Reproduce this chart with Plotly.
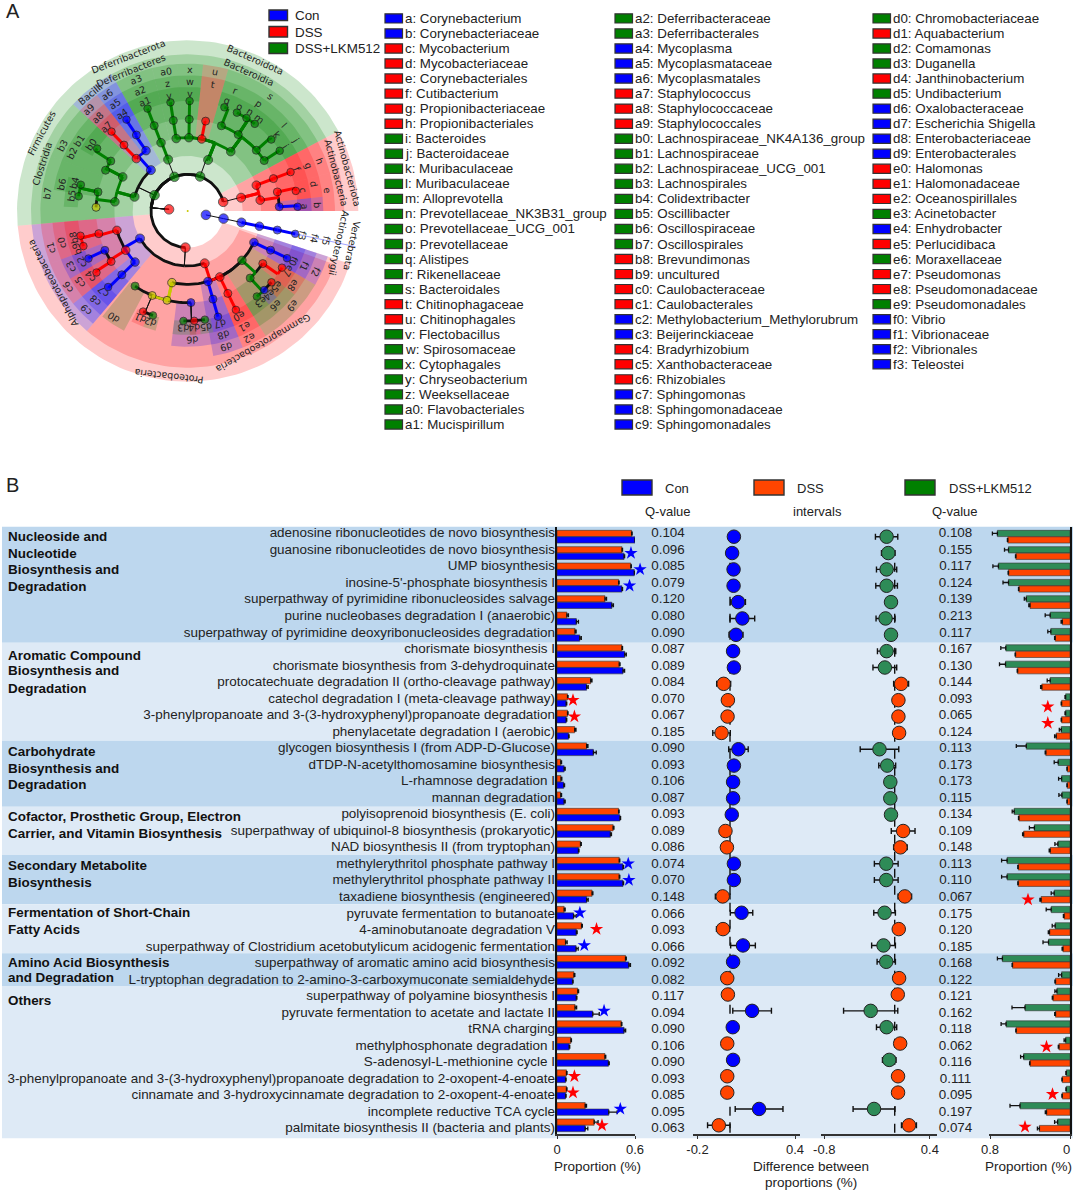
import math
import plotly.graph_objects as go

W, H = 1073, 1191
BLUE, RED, GREEN, YEL = "#0000FF", "#FF0000", "#008000", "#C8C800"
ORANGE, SEA = "#FF4500", "#2E8B57"
FONT = "Liberation Sans"
INK = "#222222"

# ---------------- Panel B data ----------------
pathways = [
 "adenosine ribonucleotides de novo biosynthesis", "guanosine ribonucleotides de novo biosynthesis",
 "UMP biosynthesis", "inosine-5'-phosphate biosynthesis I",
 "superpathway of pyrimidine ribonucleosides salvage", "purine nucleobases degradation I (anaerobic)",
 "superpathway of pyrimidine deoxyribonucleosides degradation", "chorismate biosynthesis I",
 "chorismate biosynthesis from 3-dehydroquinate", "protocatechuate degradation II (ortho-cleavage pathway)",
 "catechol degradation I (meta-cleavage pathway)", "3-phenylpropanoate and 3-(3-hydroxyphenyl)propanoate degradation",
 "phenylacetate degradation I (aerobic)", "glycogen biosynthesis I (from ADP-D-Glucose)",
 "dTDP-N-acetylthomosamine biosynthesis", "L-rhamnose degradation I", "mannan degradation",
 "polyisoprenoid biosynthesis (E. coli)", "superpathway of ubiquinol-8 biosynthesis (prokaryotic)",
 "NAD biosynthesis II (from tryptophan)", "methylerythritol phosphate pathway I",
 "methylerythritol phosphate pathway II", "taxadiene biosynthesis (engineered)",
 "pyruvate fermentation to butanoate", "4-aminobutanoate degradation V",
 "superpathway of Clostridium acetobutylicum acidogenic fermentation",
 "superpathway of aromatic amino acid biosynthesis",
 "L-tryptophan degradation to 2-amino-3-carboxymuconate semialdehyde",
 "superpathway of polyamine biosynthesis I", "pyruvate fermentation to acetate and lactate II",
 "tRNA charging", "methylphosphonate degradation I", "S-adenosyl-L-methionine cycle I",
 "3-phenylpropanoate and 3-(3-hydroxyphenyl)propanoate degradation to 2-oxopent-4-enoate",
 "cinnamate and 3-hydroxycinnamate degradation to 2-oxopent-4-enoate",
 "incomplete reductive TCA cycle", "palmitate biosynthesis II (bacteria and plants)"]

left_dss = [.574,.50,.568,.474,.369,.076,.139,.50,.479,.259,.081,.081,.136,.228,.029,.031,.029,.474,.432,.181,.479,.479,.27,.055,.189,.066,.527,.131,.16,.139,.495,.107,.369,.073,.073,.217,.286]
left_con = [.60,.516,.595,.50,.422,.149,.175,.521,.508,.228,.071,.071,.089,.28,.055,.052,.055,.485,.411,.165,.508,.508,.228,.128,.149,.147,.553,.12,.149,.275,.516,.094,.396,.066,.066,.398,.217]
left_dss_err = [.004,.004,.004,.004,.012,.012,.008,.004,.006,.01,.004,.004,.01,.01,.006,.006,.006,.004,.006,.006,.004,.004,.006,.008,.006,.012,.006,.006,.006,.012,.004,.004,.006,.004,.004,.01,.03]
left_con_err = [.004,.004,.004,.004,.012,.016,.012,.012,.012,.012,.004,.004,.004,.022,.008,.006,.008,.004,.008,.004,.004,.004,.012,.02,.006,.016,.012,.004,.004,.05,.012,.004,.006,.004,.004,.065,.02]

right_dsslkm = [.726,.615,.716,.615,.437,.198,.192,.642,.645,.198,.044,.044,.087,.437,.118,.084,.081,.558,.356,.121,.629,.629,.158,.188,.148,.215,.676,.084,.131,.45,.639,.044,.464,.037,.037,.50,.124]
right_dss = [.622,.541,.615,.511,.40,.077,.148,.545,.524,.282,.084,.084,.138,.242,.027,.027,.027,.511,.464,.198,.518,.518,.289,.06,.205,.071,.575,.145,.171,.145,.538,.111,.40,.077,.077,.235,.306]
right_lkm_err = [.05,.04,.055,.055,.02,.05,.03,.05,.06,.03,.006,.006,.02,.1,.04,.03,.03,.02,.05,.03,.055,.055,.03,.05,.03,.055,.05,.03,.02,.13,.05,.015,.03,.004,.004,.1,.03]
right_dss_err = [.004,.004,.004,.004,.012,.012,.006,.004,.004,.012,.004,.004,.016,.006,.004,.004,.004,.004,.01,.01,.004,.004,.012,.006,.012,.008,.004,.006,.006,.008,.004,.006,.004,.004,.004,.012,.02]

diff_left = [.024,.013,.022,.022,.05,.076,.037,.019,.024,-.039,-.013,-.015,-.052,.052,.024,.019,.019,.011,-.028,-.019,.024,.024,-.045,.071,-.043,.08,.019,-.017,-.013,.136,.017,-.017,.019,-.017,-.017,.179,-.069]
diff_left_err = [.02,.02,.025,.025,.045,.076,.043,.025,.03,.043,.01,.01,.054,.06,.03,.02,.02,.02,.03,.02,.02,.02,.045,.069,.04,.076,.02,.02,.02,.119,.02,.02,.02,.01,.01,.147,.069]
diff_right = [-.092,-.073,-.092,-.092,-.042,-.104,-.042,-.092,-.112,.073,.042,.042,.05,-.173,-.085,-.05,-.05,-.042,.096,.065,-.096,-.096,.115,-.115,.046,-.127,-.096,.05,.035,-.273,-.092,.062,-.062,.038,.038,-.235,.162]
diff_right_err = [.127,.077,.115,.123,.04,.108,.04,.104,.135,.085,.02,.02,.02,.219,.096,.03,.03,.02,.135,.077,.135,.135,.077,.123,.02,.135,.104,.02,.02,.308,.115,.03,.077,.02,.02,.238,.085]

q_left = ["0.104","0.096","0.085","0.079","0.120","0.080","0.090","0.087","0.089","0.084","0.070","0.067","0.185","0.090","0.093","0.106","0.087","0.093","0.089","0.086","0.074","0.070","0.148","0.066","0.093","0.066","0.092","0.082","0.117","0.094","0.090","0.106","0.090","0.093","0.085","0.095","0.063"]
q_right = ["0.108","0.155","0.117","0.124","0.139","0.213","0.117","0.167","0.130","0.144","0.093","0.065","0.124","0.113","0.173","0.173","0.115","0.134","0.109","0.148","0.113","0.110","0.067","0.175","0.120","0.185","0.168","0.122","0.121","0.162","0.118","0.062","0.116","0.111","0.095","0.197","0.074"]

star_blue_rows = [1,2,3,20,21,23,25,29,35]
star_blue_x = [.569,.639,.558,.548,.553,.176,.21,.362,.487]
star_red_rows = [10,11,24,33,34,36]
star_red_x = [.123,.134,.304,.134,.123,.346]
star_right_rows = [10.4,11.4,22.2,31.2,34.1,36.1]
star_right_x = [.222,.222,.42,.235,.175,.45]

group_bands = [526.7, 642.7, 740.7, 806.7, 855, 904.3, 953.3, 986, 1138.3]
group_lines = [("Nucleoside and",536.7),("Nucleotide",553),("Biosynthesis and",569.7),("Degradation",586),
 ("Aromatic Compound",655),("Biosynthesis and",671),("Degradation",688),
 ("Carbohydrate",751.7),("Biosynthesis and",768),("Degradation",784),
 ("Cofactor, Prosthetic Group, Electron",816.7),("Carrier, and Vitamin Biosynthesis",833),
 ("Secondary Metabolite",865.3),("Biosynthesis",882),
 ("Fermentation of Short-Chain",912.3),("Fatty Acids",929),
 ("Amino Acid Biosynthesis",962),("and Degradation",978),("Others",1000)]

# ---------------- Panel A data ----------------
legend_col1 = ["a: Corynebacterium","b: Corynebacteriaceae","c: Mycobacterium","d: Mycobacteriaceae","e: Corynebacteriales","f: Cutibacterium","g: Propionibacteriaceae","h: Propionibacteriales","i: Bacteroides","j: Bacteroidaceae","k: Muribaculaceae","l: Muribaculaceae","m: Alloprevotella","n: Prevotellaceae_NK3B31_group","o: Prevotellaceae_UCG_001","p: Prevotellaceae","q: Alistipes","r: Rikenellaceae","s: Bacteroidales","t: Chitinophagaceae","u: Chitinophagales","v: Flectobacillus","w: Spirosomaceae","x: Cytophagales","y: Chryseobacterium","z: Weeksellaceae","a0: Flavobacteriales","a1: Mucispirillum"]
legend_col1_c = list("bbrrrrrrgggggggggggrrggggggg")
legend_col2 = ["a2: Deferribacteraceae","a3: Deferribacterales","a4: Mycoplasma","a5: Mycoplasmataceae","a6: Mycoplasmatales","a7: Staphylococcus","a8: Staphylococcaceae","a9: Staphylococcales","b0: Lachnospiraceae_NK4A136_group","b1: Lachnospiraceae","b2: Lachnospiraceae_UCG_001","b3: Lachnospirales","b4: Colidextribacter","b5: Oscillibacter","b6: Oscillospiraceae","b7: Oscillospirales","b8: Brevundimonas","b9: uncultured","c0: Caulobacteraceae","c1: Caulobacterales","c2: Methylobacterium_Methylorubrum","c3: Beijerinckiaceae","c4: Bradyrhizobium","c5: Xanthobacteraceae","c6: Rhizobiales","c7: Sphingomonas","c8: Sphingomonadaceae","c9: Sphingomonadales"]
legend_col2_c = list("ggbbbrrrggggggggrrrrbbrrrbbb")
legend_col3 = ["d0: Chromobacteriaceae","d1: Aquabacterium","d2: Comamonas","d3: Duganella","d4: Janthinobacterium","d5: Undibacterium","d6: Oxalobacteraceae","d7: Escherichia Shigella","d8: Enterobacteriaceae","d9: Enterobacterales","e0: Halomonas","e1: Halomonadaceae","e2: Oceanospirillales","e3: Acinetobacter","e4: Enhydrobacter","e5: Perlucidibaca","e6: Moraxellaceae","e7: Pseudomonas","e8: Pseudomonadaceae","e9: Pseudomonadales","f0: Vibrio","f1: Vibrionaceae","f2: Vibrionales","f3: Teleostei"]
legend_col3_c = list("grggrgbbbbrrrgbrgrrgbbbb")

# nodes: key, parent, taxonomic level (1..6), compass angle, colour; keys starting with _ carry no letter
nodes_root = [("_R",None,1,275,"r"),("_f1",None,1,102,"b")]
nodes_chordata = [("_V","_f1",2,102,"b"),("_A","_V",3,102,"b"),("f5","_A",4,102,"b"),("f4","f5",5,102,"b"),("f3","f4",6,102,"b")]
nodes_bacteroid = [("_Bp","_R",2,19.8,"g"),("_Bc","_Bp",3,21.8,"g"),("s","_Bc",4,36,"g"),("u","_Bc",4,11,"r"),("x","_Bc",4,1,"g"),("a0","_Bc",4,351,"g"),
 ("t","u",5,11.3,"r"),("w","x",5,1,"g"),("v","w",6,1,"g"),("z","a0",5,351,"g"),("y","z",6,351,"g"),("r","s",5,21.6,"g"),("q","r",6,19.5,"g"),
 ("p","s",5,33.5,"g"),("o","p",6,26.6,"g"),("n","p",6,32.3,"g"),("m","p",6,37.6,"g"),("l","s",5,48.5,"g"),("k","l",6,49.5,"g"),("j","s",5,56.6,"g"),("i","j",6,56.8,"g")]
nodes_firmicutes = [("_Fp","_R",2,295.6,"g"),("_Fc","_Fp",3,285,"g"),("_Bac","_Fp",3,318,"b"),("a6","_Bac",4,325.4,"b"),("a5","a6",5,326,"b"),("a4","a5",6,326.2,"b"),
 ("a9","_Bac",4,315.6,"r"),("a8","a9",5,316,"r"),("a7","a8",6,316.2,"r"),("b3","_Fc",4,297.7,"g"),("b2","b3",5,296.4,"g"),("b1","b3",5,303,"g"),("b0","b1",6,304.6,"g"),
 ("b7","_Fc",4,277.2,"g"),("b6","b7",5,282,"g"),("_y","b7",5,272.3,"y"),("b4","b6",6,283.8,"g"),("b5","b6",6,277.7,"g")]
nodes_deferri = [("_Dp","_R",2,338.8,"g"),("_Dc","_Dp",3,339.2,"g"),("a3","_Dc",4,338.7,"g"),("a2","a3",5,338.6,"g"),("a1","a2",6,338.6,"g")]
nodes_actino = [("_Ap","_R",2,75.6,"r"),("_Ac","_Ap",3,76,"r"),("h","_Ac",4,69.4,"r"),("g","h",5,69.3,"r"),("f","g",6,69.3,"r"),("e","_Ac",4,81.5,"r"),
 ("d","e",5,78,"r"),("c","d",6,79.5,"r"),("b","e",5,87.3,"b"),("a","b",6,87.8,"b")]
nodes_alpha = [("_Pp","_R",2,183.5,"r"),("_Al","_Pp",3,240,"b"),("c1","_Al",4,254.7,"r"),("c0","c1",5,255.7,"r"),("b8","c0",6,257,"r"),("b9","c0",6,251.4,"r"),
 ("c6","_Al",4,237.7,"r"),("c3","c6",5,244.6,"b"),("c2","c3",6,244.4,"b"),("c5","c6",5,236.6,"r"),("c4","c5",6,236,"r"),("c9","_Al",4,225.9,"b"),("c8","c9",5,225.9,"b"),("c7","c8",6,226.3,"b")]
nodes_gamma = [("_Ga","_Pp",3,162,"r"),("_Y1","_Ga",4,192.4,"y"),("_Y2","_Y1",5,193,"y"),("_Y3","_Y1",5,202.8,"y"),("d0","_Y1",5,215,"g"),("d1","_Y3",6,203.9,"r"),("d2","_Y3",6,198.4,"g"),
 ("d6","_Y1",5,178,"b"),("d3","d6",6,182.2,"g"),("d4","d6",6,176.6,"r"),("d5","d6",6,171,"g"),("d9","_Ga",4,164,"b"),("d8","d9",5,164,"b"),("d7","d8",6,164,"b"),
 ("e2","_Ga",4,154,"r"),("e1","e2",5,154,"r"),("e0","e1",6,154,"r"),("e9","_Ga",4,132.3,"g"),("e6","e9",5,137,"g"),("e3","e6",6,141,"g"),("e4","e6",6,135.9,"b"),("e5","e6",6,130.4,"r"),
 ("e8","e9",5,125,"r"),("e7","e8",6,121,"r"),("f2","_Ga",4,115.4,"b"),("f1","f2",5,115.3,"b"),("f0","f1",6,115.4,"b")]

# shaded clades: angle from, angle to, colour
phylum_sectors = [(62,90,"r"),(108,265,"r"),(265,331,"g"),(331,346,"g"),(346,422,"g")]
class_sectors = [(62,90,"r"),(110,220,"r"),(220,265,"b"),(265,313,"g"),(313,331,"b"),(331,346,"g"),(346,422,"g")]
order_sectors = [(62,75,"r"),(75,90,"r"),(322,331,"b"),(313,322,"r"),(292,313,"g"),(265,292,"g"),(331,346,"g"),(346,356,"g"),(356,366,"g"),(366,376,"r"),(376,422,"g"),
 (249,265,"r"),(231,249,"r"),(220,231,"b"),(158,170,"b"),(148,158,"r"),(120,148,"g"),(108,120,"b")]
family_sectors = [(62,75,"r"),(75,84,"r"),(84,90,"b"),(322,331,"b"),(313,322,"r"),(300,313,"g"),(292,300,"g"),(279,292,"g"),(331,346,"g"),(346,356,"g"),(356,366,"g"),(366,376,"r"),
 (376,384,"g"),(384,404,"g"),(404,412,"g"),(412,422,"g"),(249,265,"r"),(240,249,"b"),(231,240,"r"),(220,231,"b"),(158,168,"b"),(168,187,"b"),(208,219,"g"),(148,158,"r"),(128,148,"g"),(120,128,"r"),(108,120,"b")]
genus_sectors = [(84,90,"b"),(75,84,"r"),(62,75,"r"),(412,422,"g"),(404,412,"g"),(376,384,"g"),(384,404,"g"),(346,356,"g"),(356,366,"g"),(331,346,"g"),(322,331,"b"),(313,322,"r"),(300,313,"g"),
 (279,286,"g"),(272,279,"g"),(254,265,"r"),(249,254,"r"),(240,249,"b"),(231,240,"r"),(220,231,"b"),(176,187,"g"),(174,179,"r"),(168,174,"g"),(158,168,"b"),(148,158,"r"),(139,148,"g"),(134,139,"b"),(128,134,"r"),(120,128,"r"),(108,120,"b"),(195,201,"g"),(201,207,"r")]

taxon_names = ["Actinobacteriota","Firmicutes","Deferribacterota","Bacteroidota","Proteobacteria","Vertebrata","Actinobacteria","Actinopterygii","Clostridia","Bacilli","Deferribacteres","Bacteroidia","Alphaproteobacteria","Gammaproteobacteria"]
taxon_angle = [75,298,339,24,186.5,102,75.5,102,288,320,338,24,242,150]
taxon_ring = [498,498,498,498,498,505,460,465,458,458,455,455,458,458]

# ---------------- geometry constants ----------------
LEVEL_R = {1:56,2:110,3:165,4:220,5:275,6:330}
OUTER_R = {2:512,3:470,4:442,5:407,6:372}
LABEL_R = {4:425,5:388,6:352}
NODE_SIZE = {1:9.5,2:9.5,3:9,4:8.5,5:8,6:7.5}
COL = {"r":RED,"g":GREEN,"b":BLUE,"y":YEL}
FILL = {"r":"rgba(255,0,0,0.2)","g":"rgba(0,128,0,0.2)","b":"rgba(0,0,255,0.2)"}
ROW_TOP, ROW_STEP = 536.7, 16.35
TXT_TOP, TXT_STEP = 534.0, 16.53
AX_TOP, AX_BOT = 526.7, 1134.0
n_rows = len(pathways)
rows = list(range(n_rows))

def pol(theta, r):
    t = math.radians(theta)
    return r*math.sin(t), r*math.cos(t)

def dom_x(a, b): return [a/W, b/W]
def dom_y(top, bot): return [1-bot/H, 1-top/H]

fig = go.Figure()
annots, shapes = [], []

# bands
for i in range(len(group_bands)-1):
    shapes.append(dict(type="rect", xref="paper", yref="paper", x0=2/W, x1=1, layer="below", line_width=0,
                       y0=1-group_bands[i+1]/H, y1=1-group_bands[i]/H,
                       fillcolor="#BDD7EE" if i % 2 == 0 else "#DEEAF6"))

# left bars
bar_line = dict(color="#333333", width=0.6)
def eb(vals, w=2): return dict(type="data", array=vals, arrayminus=[0]*len(vals), symmetric=False, color="#111111", thickness=1.3, width=w)
fig.add_bar(x=left_dss, y=rows, orientation="h", marker=dict(color=ORANGE, line=bar_line), error_x=eb(left_dss_err), xaxis="x", yaxis="y", showlegend=False)
fig.add_bar(x=left_con, y=rows, orientation="h", marker=dict(color=BLUE, line=bar_line), error_x=eb(left_con_err), xaxis="x", yaxis="y", showlegend=False)
# right bars
fig.add_bar(x=right_dsslkm, y=rows, orientation="h", marker=dict(color=SEA, line=bar_line), error_x=eb(right_lkm_err), xaxis="x4", yaxis="y4", showlegend=False)
fig.add_bar(x=right_dss, y=rows, orientation="h", marker=dict(color=ORANGE, line=bar_line), error_x=eb(right_dss_err), xaxis="x4", yaxis="y4", showlegend=False)

# zero dashes
for ax, ay in (("x2","y2"),("x3","y3")):
    fig.add_scatter(x=[0,0], y=[1.6, n_rows-0.47], mode="lines", line=dict(color="#111111", width=1.4, dash="9px,8px"),
                    xaxis=ax, yaxis=ay, showlegend=False)
# difference dots
fig.add_scatter(x=diff_left, y=rows, mode="markers", xaxis="x2", yaxis="y2", showlegend=False,
    marker=dict(size=13.5, color=[BLUE if v > 0 else ORANGE for v in diff_left], line=dict(color="#222222", width=1)),
    error_x=dict(type="data", array=diff_left_err, color="#111111", thickness=1.4, width=3))
fig.add_scatter(x=diff_right, y=rows, mode="markers", xaxis="x3", yaxis="y3", showlegend=False,
    marker=dict(size=13.5, color=[SEA if v < 0 else ORANGE for v in diff_right], line=dict(color="#222222", width=1)),
    error_x=dict(type="data", array=diff_right_err, color="#111111", thickness=1.4, width=3))
# stars (left ones on a wider hidden axis with the same scale, since one sits past 0.6)
fig.add_scatter(x=star_blue_x, y=star_blue_rows, mode="markers", marker=dict(symbol="star", size=10, color=BLUE), xaxis="x8", yaxis="y8", showlegend=False)
fig.add_scatter(x=star_red_x, y=star_red_rows, mode="markers", marker=dict(symbol="star", size=10, color=RED), xaxis="x8", yaxis="y8", showlegend=False)
fig.add_scatter(x=star_right_x, y=star_right_rows, mode="markers", marker=dict(symbol="star", size=10, color=RED), xaxis="x4", yaxis="y4", cliponaxis=False, showlegend=False)

# text rows
fig.add_scatter(x=[555]*n_rows, y=rows, text=pathways, mode="text", textposition="middle left",
                textfont=dict(family=FONT, size=13.45, color=INK), xaxis="x6", yaxis="y7", showlegend=False)
fig.add_scatter(x=[668]*n_rows, y=rows, text=q_left, mode="text", textposition="middle center",
                textfont=dict(family=FONT, size=13.4, color=INK), xaxis="x6", yaxis="y7", showlegend=False)
fig.add_scatter(x=[955.5]*n_rows, y=rows, text=q_right, mode="text", textposition="middle center",
                textfont=dict(family=FONT, size=13.4, color=INK), xaxis="x6", yaxis="y7", showlegend=False)

def note(x, y, text, size=13, anchor="left", bold=False, color=INK, family=FONT):
    annots.append(dict(xref="paper", yref="paper", x=x/W, y=1-y/H, text=f"<b>{text}</b>" if bold else text, showarrow=False,
                       xanchor=anchor, yanchor="middle", font=dict(family=family, size=size, color=color)))

for t, y in group_lines:
    note(6, y, t, size=13.45, bold=True, color="#111111")

def box(x0, x1, y0, y1, col, lw=1.4):
    shapes.append(dict(type="rect", xref="paper", yref="paper", x0=x0/W, x1=x1/W, y0=1-y1/H, y1=1-y0/H,
                       fillcolor=col, line=dict(color="#333333", width=lw), layer="above"))

for x0, col, tx, lab in ((622,BLUE,663,"Con"),(754,ORANGE,795,"DSS"),(905,GREEN,947,"DSS+LKM512")):
    box(x0, x0+30, 480, 495, col)
    note(tx, 488, lab, size=13)
note(668, 511, "Q-value", anchor="center")
note(817, 511, "intervals", anchor="center")
note(955, 511, "Q-value", anchor="center")
note(597, 1166, "Proportion (%)", size=13.5, anchor="center")
note(1028, 1166, "Proportion (%)", size=13.5, anchor="center")
note(811, 1166, "Difference between", size=13.5, anchor="center")
note(811, 1182, "proportions (%)", size=13.5, anchor="center")
note(1066.7, 1149, "0", size=13, anchor="center")
note(4, 11, "A", size=20)
note(4, 485, "B", size=20)

# ---------- cladogram ----------
def sector(a0, a1, level, col):
    n = max(2, int(abs(a1-a0)/2)+1)
    angs = [a0+(a1-a0)*i/n for i in range(n+1)]
    ri, ro = LEVEL_R[level], OUTER_R[level]
    pts = [pol(a, ro) for a in angs] + [pol(a, ri) for a in reversed(angs)]
    pts.append(pts[0])
    fig.add_scatter(x=[p[0] for p in pts], y=[p[1] for p in pts], mode="lines", fill="toself", fillcolor=FILL[col],
                    line=dict(width=0), xaxis="x5", yaxis="y5", showlegend=False, hoverinfo="skip")

for lvl, secs in ((2,phylum_sectors),(3,class_sectors),(4,order_sectors),(5,family_sectors),(6,genus_sectors)):
    for a0, a1, c in secs:
        sector(a0, a1, lvl, c)

all_nodes = nodes_root+nodes_chordata+nodes_bacteroid+nodes_firmicutes+nodes_deferri+nodes_actino+nodes_alpha+nodes_gamma
by_key = {n[0]: n for n in all_nodes}

def is_black_edge(n):
    if n[1] is None: return False
    return n[2] <= 3 or by_key[n[1]][4] != n[4]

def edge(n):
    key, parent, lvl, th, col = n
    if parent is None: return
    _, _, plvl, pth, pcol = by_key[parent]
    rp, rc = LEVEL_R[plvl], LEVEL_R[lvl]
    same = not is_black_edge(n)
    p0, p1 = pol(pth, rp), pol(pth, rc)
    fig.add_scatter(x=[p0[0],p1[0]], y=[p0[1],p1[1]], mode="lines", xaxis="x5", yaxis="y5", showlegend=False, hoverinfo="skip",
                    line=dict(color=COL[col] if same else "#111111", width=3 if same else 1))
    d = (th-pth+180) % 360 - 180
    if abs(d) > 0.2:
        m = max(2, int(abs(d)/2)+1)
        pts = [pol(pth+d*i/m, rc) for i in range(m+1)]
        fig.add_scatter(x=[p[0] for p in pts], y=[p[1] for p in pts], mode="lines", xaxis="x5", yaxis="y5", showlegend=False, hoverinfo="skip",
                        line=dict(color=COL[col] if same else "#111111", width=2.8))

for n in all_nodes:
    if is_black_edge(n):
        edge(n)
for n in all_nodes:
    if not is_black_edge(n):
        edge(n)

# faint line beyond the teleost branch
tip0, tip1 = pol(102, 330), pol(102, 515)
fig.add_scatter(x=[tip0[0],tip1[0]], y=[tip0[1],tip1[1]], mode="lines", line=dict(color="rgba(90,90,255,0.55)", width=1), xaxis="x5", yaxis="y5", showlegend=False, hoverinfo="skip")

xy = [pol(n[3], LEVEL_R[n[2]]) for n in all_nodes]
fig.add_scatter(x=[p[0] for p in xy], y=[p[1] for p in xy], mode="markers", xaxis="x5", yaxis="y5", showlegend=False,
                marker=dict(size=[NODE_SIZE[n[2]] for n in all_nodes], color=[COL[n[4]] for n in all_nodes], line=dict(color="#111111", width=0.9)))
fig.add_scatter(x=[0], y=[0], mode="markers", marker=dict(size=2, color=YEL), xaxis="x5", yaxis="y5", showlegend=False)

def rot(theta):
    return (theta+180) % 360 - 180
def cl_text(theta, r, text, size=9.5):
    x, y = pol(theta, r)
    annots.append(dict(xref="x5", yref="y5", x=x, y=y, text=text, showarrow=False, textangle=rot(theta),
                       font=dict(family="DejaVu Sans", size=size, color="#222222"), xanchor="center", yanchor="middle"))
for n in all_nodes:
    if not n[0].startswith("_") and n[2] in LABEL_R:
        cl_text(n[3], LABEL_R[n[2]], n[0])
for name, a, r in zip(taxon_names, taxon_angle, taxon_ring):
    cl_text(a, r, name)

# Panel A legends
for y0, col, lab in ((10,BLUE,"Con"),(26.5,RED,"DSS"),(43,GREEN,"DSS+LKM512")):
    box(269, 287.5, y0, y0+10.5, col)
    note(292.5, y0+5.5, lab, size=13.4)
for names, cols, x0 in ((legend_col1,legend_col1_c,385),(legend_col2,legend_col2_c,615),(legend_col3,legend_col3_c,873)):
    for i, (nm, c) in enumerate(zip(names, cols)):
        y = 18.4+15.04*i
        box(x0, x0+17.5, y-4.6, y+4.6, COL[c], lw=1.2)
        note(x0+18.2, y, nm, size=13.35)

# ---------- layout ----------
row_range = [(AX_BOT-ROW_TOP)/ROW_STEP, (AX_TOP-ROW_TOP)/ROW_STEP]
def tick_axis(a, b, rng, ticks, labels):
    return dict(domain=dom_x(a,b), range=rng, tickvals=ticks, ticktext=labels, showgrid=False, zeroline=False,
                showline=True, linecolor="#333333", linewidth=1.6, ticks="outside", ticklen=3, tickwidth=1.3, tickcolor="#333333",
                tickfont=dict(family=FONT, size=13, color=INK), fixedrange=True, automargin=False)
def row_axis(anchor, spine=False, side="left"):
    return dict(domain=dom_y(AX_TOP,AX_BOT), range=row_range, anchor=anchor, showgrid=False, zeroline=False, automargin=False,
                showticklabels=False, ticks="", showline=spine, linecolor="#111111", linewidth=1.8, side=side, fixedrange=True)

z1 = 730.0; s1 = 162.5
z2 = 894.7; s2 = 88.0
left_scale = (635-557)/0.6
layout = dict(template="none", width=W, height=H, margin=dict(l=0,r=0,t=0,b=0,pad=0), paper_bgcolor="white", plot_bgcolor="rgba(0,0,0,0)",
    autosize=False, barmode="group", bargap=0.21, bargroupgap=0.03, showlegend=False, annotations=annots, shapes=shapes,
    xaxis=dict(anchor="y", **tick_axis(557,635,[0,.6],[0,.6],["0","0.6"])),
    yaxis=row_axis("x", True),
    xaxis2=dict(anchor="y2", **tick_axis(693,800,[(693-z1)/s1,(800-z1)/s1],[-.2,.4],["-0.2","0.4"])),
    yaxis2=row_axis("x2"),
    xaxis3=dict(anchor="y3", **tick_axis(820.7,936.7,[(820.7-z2)/s2,(936.7-z2)/s2],[-.8,.4],["-0.8","0.4"])),
    yaxis3=row_axis("x3"),
    xaxis4=dict(anchor="y4", **tick_axis(989,1070,[.81,0],[.8,0],["0.8",""])),
    yaxis4=row_axis("x4", True, "right"),
    xaxis5=dict(domain=dom_x(0,380), range=[-563,577], visible=False, fixedrange=True, anchor="y5"),
    yaxis5=dict(domain=dom_y(0,400), range=[-567,633], visible=False, fixedrange=True, anchor="x5"),
    xaxis6=dict(domain=[0,1], range=[0,W], visible=False, fixedrange=True, anchor="y7"),
    yaxis7=dict(domain=[0,1], range=[(H-TXT_TOP)/TXT_STEP, (0-TXT_TOP)/TXT_STEP], visible=False, fixedrange=True, anchor="x6"),
    xaxis8=dict(domain=dom_x(557,680), range=[0,(680-557)/left_scale], visible=False, fixedrange=True, anchor="y8"),
    yaxis8=dict(domain=dom_y(AX_TOP,AX_BOT), range=row_range, visible=False, fixedrange=True, anchor="x8"),
)
fig.update_layout(**layout)
fig.write_html("out.html", config={"displayModeBar": False}, post_script="document.body.style.margin='0';document.body.style.overflow='hidden';")
